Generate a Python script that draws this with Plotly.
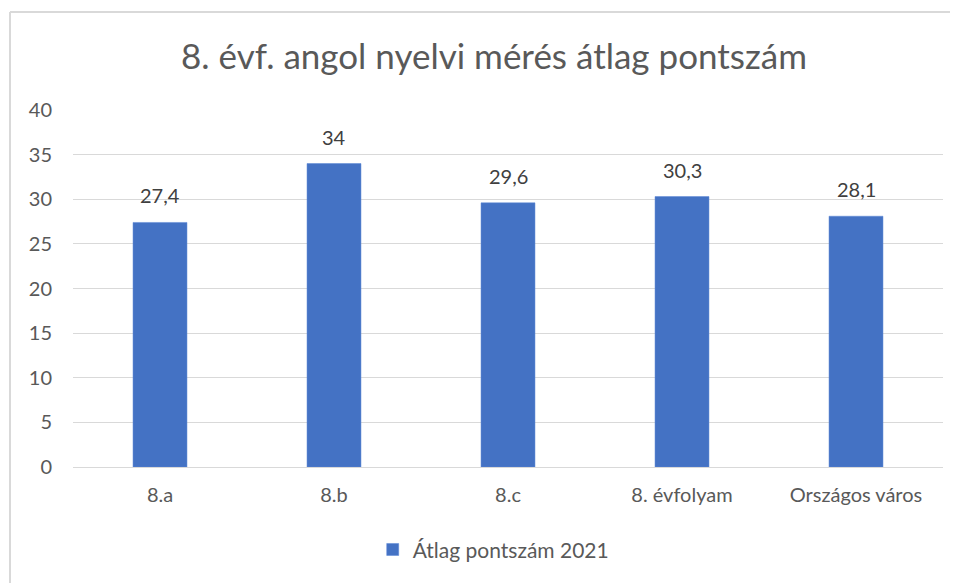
import plotly.graph_objects as go

categories = ["8.a", "8.b", "8.c", "8. évfolyam", "Országos város"]
values = [27.4, 34, 29.6, 30.3, 28.1]
series_name = "Átlag pontszám 2021"
title_text = "8. évf. angol nyelvi mérés átlag pontszám"
y_ticks = [0, 5, 10, 15, 20, 25, 30, 35, 40]

FONT = "Lato, Carlito, Calibri, sans-serif"
BAR = "#4472C4"
GRID = "#D9D9D9"
TXT = "#595959"

labels = [f"{v:g}".replace(".", ",") for v in values]

# figure is placed at page offset (8, 8) by the browser body margin
L, T, PW, PH = 65, 102, 870, 357

fig = go.Figure()
fig.add_trace(go.Bar(
    x=categories, y=values, name=series_name,
    marker=dict(color=BAR, line=dict(color="#5B87D6", width=0.5)),
    showlegend=True,
))

for c, v, t in zip(categories, values, labels):
    fig.add_annotation(x=c, y=v, text=t, showarrow=False, yanchor="bottom",
                       yshift=13, font=dict(family=FONT, size=20, color="#404040"))

bx = (2 - L) / PW
by_top = (T + PH - 4) / PH
fig.update_layout(
    width=950, height=575,
    margin=dict(l=L, r=950 - L - PW, t=T, b=575 - T - PH),
    paper_bgcolor="white", plot_bgcolor="white",
    bargap=0.69,
    font=dict(family=FONT, color=TXT, size=20),
    title=dict(text=title_text, x=486 / 950, xanchor="center", y=1 - 49 / 575, yanchor="middle",
               font=dict(family=FONT, size=35, color=TXT)),
    legend=dict(orientation="h", x=0.483, xanchor="center", y=-0.232, yanchor="middle",
                font=dict(family=FONT, size=21, color=TXT), itemwidth=30),
    shapes=[
        dict(type="line", xref="paper", yref="paper", x0=bx, x1=(950 - L) / PW,
             y0=by_top, y1=by_top, line=dict(color="#D9D9D9", width=2)),
        dict(type="line", xref="paper", yref="paper", x0=bx, x1=bx,
             y0=by_top, y1=-(575 - T - PH) / PH, line=dict(color="#D9D9D9", width=2)),
    ],
)
fig.update_yaxes(range=[0, 40], tickvals=y_ticks, showgrid=True, gridcolor=GRID, gridwidth=1,
                 zeroline=False, showline=False, ticklabelstandoff=20,
                 tickfont=dict(family=FONT, size=20, color=TXT))
fig.update_xaxes(showline=True, linecolor=GRID, linewidth=1, ticklabelstandoff=10,
                 tickfont=dict(family=FONT, size=20, color=TXT))

fig.write_html("out.html")
